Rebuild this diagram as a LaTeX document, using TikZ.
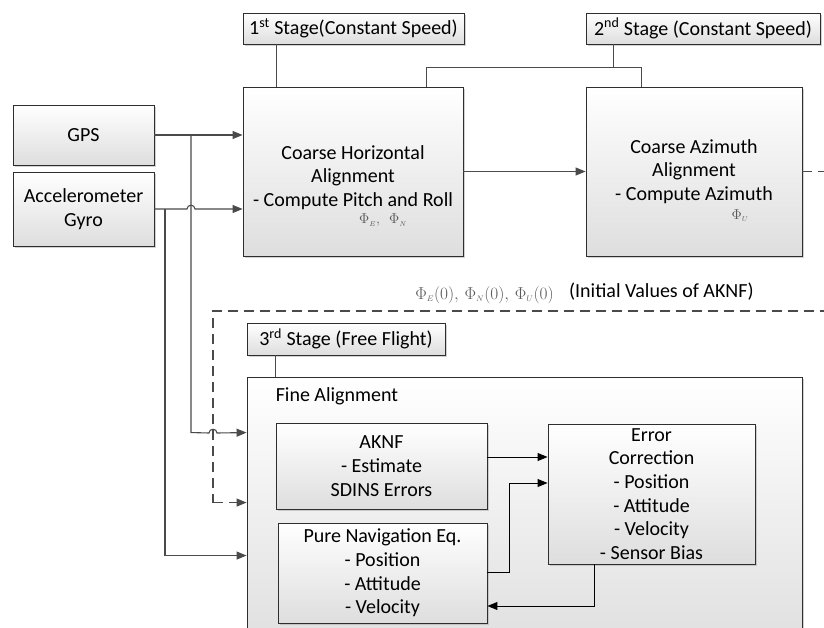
\documentclass[tikz,border=0pt]{standalone}
\usepackage{fontspec}
\setmainfont{Carlito}
\usepackage{tikz}
\usetikzlibrary{arrows.meta,shadows,positioning}

\definecolor{lnGray}{HTML}{4A4A4A}
\definecolor{bdGray}{HTML}{2E2E2E}
\definecolor{phGray}{HTML}{5A5A5A}

\tikzset{
  blk/.style={draw=bdGray, line width=0.9pt, top color=white, bottom color=black!13,
    drop shadow={shadow xshift=1.6pt, shadow yshift=-1.6pt, fill=black!35, opacity=0.5},
    inner sep=0pt, align=center},
  txt/.style={inner sep=0pt, align=center},
  phi/.style={inner sep=0pt, text=phGray, font=\fontsize{17}{20}\selectfont},
  phismall/.style={phi, font=\fontsize{15}{18}\selectfont},
  conn/.style={draw=lnGray, line width=1.1pt},
  arr/.style={conn, -{Triangle[length=10pt,width=8pt]}},
  arrb/.style={draw=black, line width=1pt, -{Triangle[length=10pt,width=8pt]}},
  dsh/.style={conn, dash pattern=on 10pt off 6pt}
}

\begin{document}
\begin{tikzpicture}[x=1pt,y=-1pt,
  every node/.style={font=\fontsize{20}{23.7}\selectfont}]
\useasboundingbox (0,0) rectangle (824,628);
\clip (0,0) rectangle (824,628);

% sensors
\node[blk, minimum width=141pt, minimum height=60pt] (gps) at (83.5,135) {GPS};
\node[blk, minimum width=141pt, minimum height=74pt] (accel) at (83.5,209) {Accelerometer\\Gyro};

% stage labels
\node[blk, minimum width=221pt, minimum height=31pt] (stageone) at (353.5,28.5) {1\textsuperscript{st} Stage(Constant Speed)};
\node[blk, minimum width=234pt, minimum height=31pt] (stagetwo) at (703,28.5) {2\textsuperscript{nd} Stage (Constant Speed)};

% coarse alignment
\node[blk, minimum width=220pt, minimum height=169pt] (chorz) at (353,171.5) {};
\node[txt] (chorztxt) at ([yshift=-6pt]chorz.center) {Coarse Horizontal\\Alignment\\- Compute Pitch and Roll};
\node[phismall] (chorzphi) at ([xshift=30pt,yshift=36pt]chorz.south) {$\Phi_{\scriptscriptstyle E},\ \ \Phi_{\scriptscriptstyle N}$};
\node[blk, minimum width=216pt, minimum height=169pt] (cazim) at (694,171.5) {};
\node[txt] (cazimtxt) at (cazim.center) {Coarse Azimuth\\Alignment\\- Compute Azimuth};
\node[phismall] (cazimphi) at ([xshift=46pt,yshift=41pt]cazim.south) {$\Phi_{\scriptscriptstyle U}$};

% initial values
\node[phi] (initphi) at (484.5,295) {$\Phi_{\scriptscriptstyle E}(0),\,\Phi_{\scriptscriptstyle N}(0),\,\Phi_{\scriptscriptstyle U}(0)$};
\node[txt, right=15pt of initphi, yshift=3pt] (initlbl) {(Initial Values of AKNF)};

% fine alignment
\node[blk, minimum width=198pt, minimum height=32pt] (stagethree) at (346,339) {3\textsuperscript{rd} Stage (Free Flight)};
\node[blk, minimum width=555pt, minimum height=283pt] (fine) at (524.5,518.5) {};
\node[txt, anchor=west] (finelbl) at ([xshift=29pt,yshift=-20pt]fine.north west) {Fine Alignment};
\node[blk, minimum width=211pt, minimum height=86pt] (aknf) at (381.5,466) {AKNF\\- Estimate\\SDINS Errors};
\node[blk, minimum width=209pt, minimum height=100pt] (purenav) at (382.5,573) {Pure Navigation Eq.\\- Position\\- Attitude\\- Velocity};
\node[blk, minimum width=207pt, minimum height=140pt] (errcorr) at (651.5,494) {Error\\Correction\\- Position\\- Attitude\\- Velocity\\- Sensor Bias};

% taps and inlets
\coordinate (gpstap) at (191,135);
\coordinate (acctap) at (165,209);
\coordinate (finein1) at ([yshift=-56pt]fine.north west);
\coordinate (finein2) at ([yshift=-126pt]fine.north west);
\coordinate (finein3) at ([yshift=-179pt]fine.north west);
\coordinate (dshR) at (830,311);
\coordinate (dshL) at (213,311);

% stage links
\draw[conn] ([xshift=34pt]stageone.south west) -- ([xshift=34pt]chorz.north west);
\draw[conn] ([xshift=28pt]stagetwo.south west) -- ++(0,24);
\draw[conn] ([xshift=-37pt]chorz.north east) -- ++(0,-19) -| ([xshift=56pt]cazim.north west);
\draw[conn] ([xshift=29pt]stagethree.south west) -- ([xshift=29pt]fine.north west);

% coarse inputs
\draw[arr] (gps.east) -- (gps.east -| chorz.west);
\draw[arr] (accel.east) -- (187,209) .. controls (187,204) and (195,204) .. (195,209) -- (accel.east -| chorz.west);
\draw[arr] (chorz.east) -- (cazim.west);

% fine inputs
\draw[arr] (gpstap) -- (gpstap |- finein1) -- (209,433) .. controls (209,428) and (217,428) .. (217,433) -- (finein1);
\draw[arr] (acctap) |- (finein3);
\draw[dsh] (cazim.east) -- ++(30,0);
\draw[dsh] (dshR) -- (dshL) -- (dshL |- finein2);
\draw[arr, dash pattern=on 10pt off 6pt] (dshL |- finein2) -- (finein2);

% fine alignment loop
\draw[arrb] ([yshift=9pt]aknf.east) -- ([yshift=9pt]aknf.east -| errcorr.west);
\draw[arrb] ([yshift=1pt]purenav.east) -- ++(22,0) |- ([yshift=11pt]errcorr.west);
\draw[arrb] ([xshift=47pt]errcorr.south west) |- ([yshift=-33pt]purenav.east);
\end{tikzpicture}
\end{document}
